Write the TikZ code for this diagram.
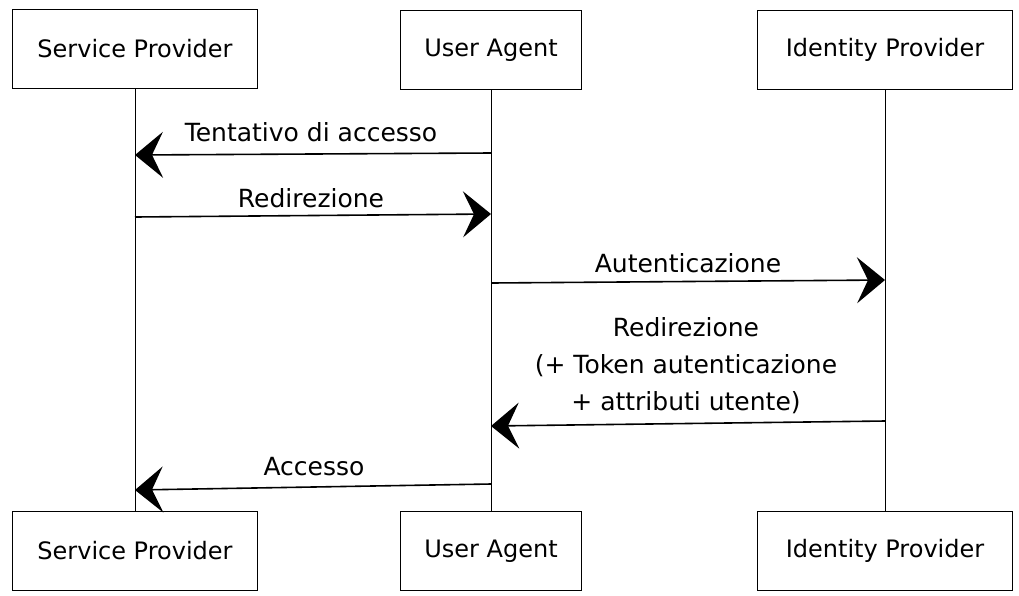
\documentclass[tikz,border=0pt]{standalone}
\usepackage{fontspec}
\setmainfont{DejaVu Sans}
\usetikzlibrary{arrows.meta}
\begin{document}
\begin{tikzpicture}[x=1pt,y=-1pt,
  actor/.style={draw, line width=1.4pt, minimum width=#1, minimum height=79pt,
    inner sep=0pt, font=\fontsize{24}{28}\selectfont},
  lifeline/.style={line width=1pt},
  msg/.style={line width=1.6pt, -{Stealth[length=28pt,width=46pt,inset=11pt]}},
  lbl/.style={font=\fontsize{25}{29}\selectfont, align=center, inner sep=0pt}]
\useasboundingbox (0,0) rectangle (1019,595);

% participants, top row
\node[actor=245pt] (spt)  at (135,49)  {Service Provider};
\node[actor=181pt] (uat)  at (491,50)  {User Agent};
\node[actor=255pt] (idpt) at (885,50)  {Identity Provider};
% participants, bottom row
\node[actor=245pt] (spb)  at (135,551) {Service Provider};
\node[actor=181pt] (uab)  at (491,551) {User Agent};
\node[actor=255pt] (idpb) at (885,551) {Identity Provider};

% lifelines
\draw[lifeline] (spt) -- (spb);
\draw[lifeline] (uat) -- (uab);
\draw[lifeline] (idpt) -- (idpb);

% message anchor points on the lifelines
\coordinate (ua1)  at (uat.south |- 0,153);
\coordinate (sp1)  at (spt.south |- 0,155);
\coordinate (sp2)  at (spt.south |- 0,217);
\coordinate (ua2)  at (uat.south |- 0,214);
\coordinate (ua3)  at (uat.south |- 0,283);
\coordinate (idp3) at (idpt.south |- 0,280);
\coordinate (idp4) at (idpt.south |- 0,421);
\coordinate (ua4)  at (uat.south |- 0,426);
\coordinate (ua5)  at (uat.south |- 0,484);
\coordinate (sp5)  at (spt.south |- 0,490);

% messages
\draw[msg] (ua1) -- (sp1);
\node[lbl] (l1) at (311,132) {Tentativo di accesso};
\draw[msg] (sp2) -- (ua2);
\node[lbl] (l2) at (311,198) {Redirezione};
\draw[msg] (ua3) -- (idp3);
\node[lbl] (l3) at (688,263) {Autenticazione};
\draw[msg] (idp4) -- (ua4);
\node[lbl] (l4) at (686,366) {Redirezione\\[8pt](+ Token autenticazione\\[8pt]+ attributi utente)};
\draw[msg] (ua5) -- (sp5);
\node[lbl] (l5) at (314,467) {Accesso};
\end{tikzpicture}
\end{document}
